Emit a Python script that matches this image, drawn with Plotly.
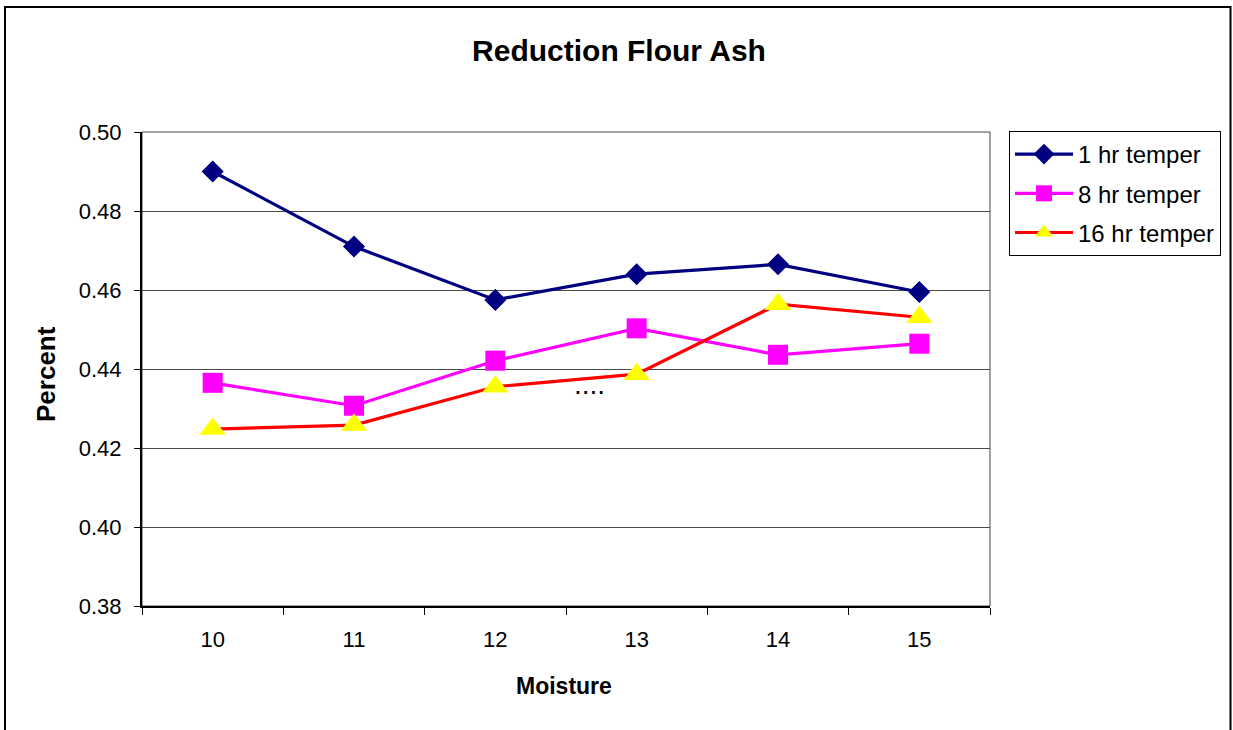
import plotly.graph_objects as go

moisture = ["10", "11", "12", "13", "14", "15"]
temper_1hr = [0.490, 0.471, 0.4575, 0.464, 0.4665, 0.4595]
temper_8hr = [0.4365, 0.4307, 0.4421, 0.4503, 0.4436, 0.4464]
temper_16hr = [0.4248, 0.4258, 0.4355, 0.4387, 0.4564, 0.4531]
series_names = ["1 hr temper", "8 hr temper", "16 hr temper"]
y_ticks = [0.38, 0.40, 0.42, 0.44, 0.46, 0.48, 0.50]

FONT = "Liberation Sans, Arial, sans-serif"

fig = go.Figure()
fig.add_trace(go.Scatter(
    x=moisture, y=temper_1hr, name=series_names[0], mode="lines+markers",
    legendgroup="a",
    line=dict(color="#000080", width=3.2),
    marker=dict(symbol="diamond", size=17, color="#000080")))
fig.add_trace(go.Scatter(
    x=moisture, y=temper_8hr, name=series_names[1], mode="lines+markers",
    legendgroup="b",
    line=dict(color="#FF00FF", width=3.2),
    marker=dict(symbol="square", size=20, color="#FF00FF")))
fig.add_trace(go.Scatter(
    x=moisture, y=temper_16hr, name=series_names[2], mode="lines+markers",
    legendgroup="c",
    line=dict(color="#FF0000", width=3.2),
    marker=dict(symbol="triangle-up", size=23, color="#FFFF00")))

# plot area: x 142..990, y 132..606
W, H = 1233, 730
L, R, T, B = 142, 990, 132, 606
pw, ph = R - L, B - T

def px_x(p):
    return (p - L) / pw

def px_y(p):
    return (B - p) / ph

fig.update_layout(
    width=W, height=H,
    margin=dict(l=L, r=W - R, t=T, b=H - B, pad=0),
    paper_bgcolor="white", plot_bgcolor="white",
    font=dict(family=FONT, size=22, color="black"),
    title=dict(text="<b>Reduction Flour Ash</b>", x=619 / W, xref="container",
               y=1 - 50 / H, yref="container", xanchor="center", yanchor="middle",
               font=dict(family=FONT, size=30, color="black")),
    showlegend=True,
    legend=dict(x=px_x(1009), y=px_y(131), xanchor="left", yanchor="top",
                bordercolor="black", borderwidth=1, bgcolor="white",
                font=dict(family=FONT, size=24, color="black"),
                tracegroupgap=5, itemwidth=58),
    xaxis=dict(type="category", range=[-0.5, 5.5], tickson="boundaries",
               ticks="outside", ticklen=7,
               tickcolor="black", tickwidth=1, ticklabelstandoff=13,
               showline=True, linecolor="black", linewidth=2,
               showgrid=False, zeroline=False,
               tickfont=dict(family=FONT, size=22, color="black")),
    yaxis=dict(range=[0.38, 0.50], tickvals=y_ticks, tickformat=".2f",
               ticks="outside", ticklen=6, tickcolor="black", ticklabelstandoff=8,
               showline=True, linecolor="black", linewidth=2,
               showgrid=True, gridcolor="#4a4a4a", gridwidth=1, zeroline=False,
               tickfont=dict(family=FONT, size=22, color="black")),
)

# axis titles
fig.add_annotation(xref="paper", yref="paper", x=px_x(564), y=px_y(686),
                   text="<b>Moisture</b>", showarrow=False,
                   xanchor="center", yanchor="middle",
                   font=dict(family=FONT, size=23, color="black"))
fig.add_annotation(xref="paper", yref="paper", x=px_x(46), y=px_y(374),
                   text="<b>Percent</b>", showarrow=False, textangle=-90,
                   xanchor="center", yanchor="middle",
                   font=dict(family=FONT, size=26, color="black"))

# plot area border (top/right)
fig.add_shape(type="rect", xref="paper", yref="paper", x0=0, x1=1, y0=0, y1=1,
              line=dict(color="#444444", width=1), layer="below")
# outer chart border
fig.add_shape(type="rect", xref="paper", yref="paper",
              x0=px_x(5), x1=px_x(1230.5), y0=px_y(745), y1=px_y(7),
              line=dict(color="black", width=2))

# stray dots in the original chart
fig.add_annotation(xref="paper", yref="paper", x=px_x(589), y=px_y(384),
                   text="....", showarrow=False,
                   font=dict(family=FONT, size=28, color="black"))

fig.write_html("out.html", config={"displayModeBar": False},
               post_script="document.body.style.margin='0';")
